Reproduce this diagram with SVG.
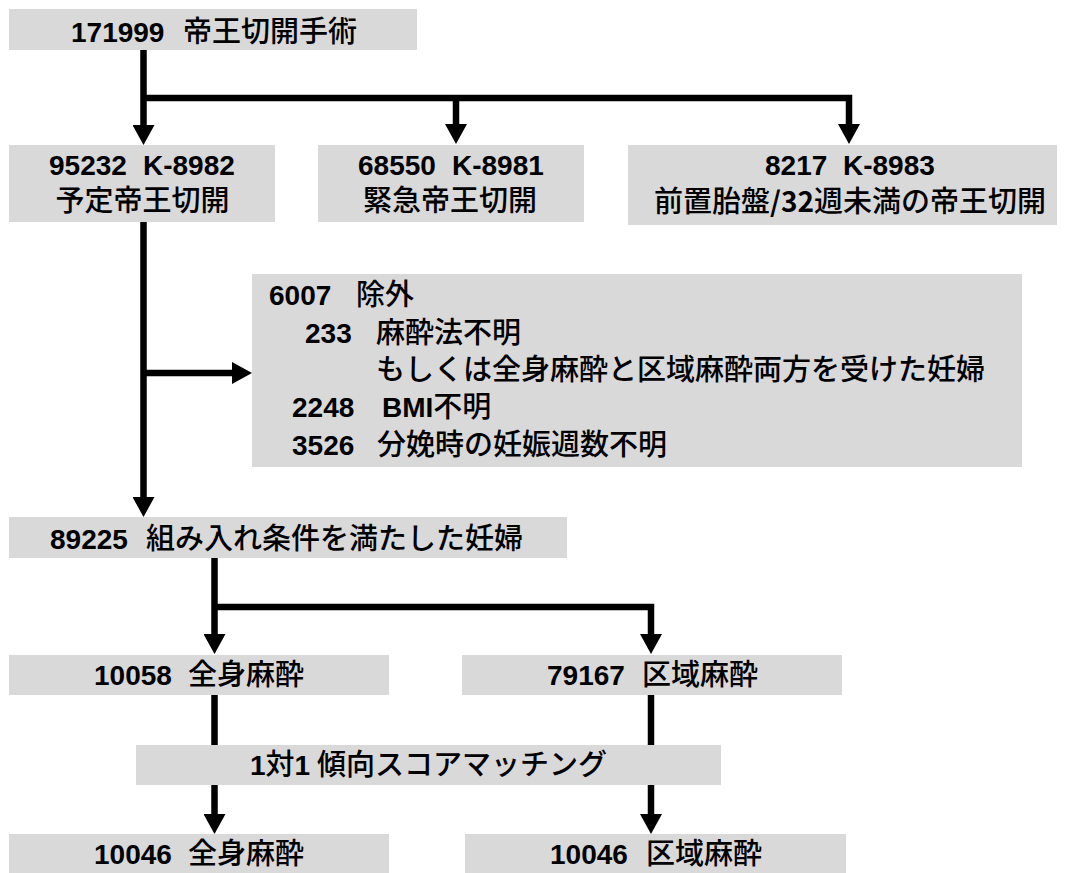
<svg xmlns="http://www.w3.org/2000/svg" width="1067" height="873" viewBox="0 0 1067 873">
<style>
.box{fill:#d9d9d9}
text{font-family:"Liberation Sans","Noto Sans CJK JP",sans-serif;fill:#000}
.n{font-size:28px;font-weight:bold}
.j{font-family:"Noto Sans CJK JP",sans-serif;font-size:29px;font-weight:500}
.c{text-anchor:middle}
.ln{fill:none;stroke:#000;stroke-width:6.5;stroke-linejoin:miter}
</style>
<defs>
<marker id="ah" markerUnits="userSpaceOnUse" markerWidth="21" markerHeight="22" refX="0" refY="11" orient="auto" viewBox="0 0 21 22">
<path d="M0,0 L20,11 L0,22 z" fill="#000"/>
</marker>
</defs>
<rect width="1067" height="873" fill="#fff"/>

<g id="connectors">
<path class="ln" d="M143.5,50 V125" marker-end="url(#ah)"/>
<path class="ln" d="M143.5,98 H849 V124" marker-end="url(#ah)"/>
<path class="ln" d="M456,98 V124" marker-end="url(#ah)"/>
<path class="ln" d="M143.5,222 V497" marker-end="url(#ah)"/>
<path class="ln" d="M143.5,373 H232" marker-end="url(#ah)"/>
<path class="ln" d="M214.5,558 V634" marker-end="url(#ah)"/>
<path class="ln" d="M214.5,607 H651 V634" marker-end="url(#ah)"/>
<path class="ln" d="M214.5,695 V745"/>
<path class="ln" d="M651,695 V745"/>
<path class="ln" d="M214.5,785 V814" marker-end="url(#ah)"/>
<path class="ln" d="M651,785 V814" marker-end="url(#ah)"/>
</g>

<g id="n-total">
<rect class="box" x="9" y="9" width="408" height="41"/>
<text y="42"><tspan class="n" x="71">171999</tspan><tspan class="j" x="183">帝王切開手術</tspan></text>
</g>

<g id="n-planned">
<rect class="box" x="9" y="145" width="266" height="77"/>
<text y="175"><tspan class="n" x="49">95232</tspan><tspan class="n" x="143">K-8982</tspan></text>
<text class="j c" x="142.5" y="211">予定帝王切開</text>
</g>

<g id="n-emergency">
<rect class="box" x="318" y="145" width="266" height="77"/>
<text y="175"><tspan class="n" x="358">68550</tspan><tspan class="n" x="452">K-8981</tspan></text>
<text class="j c" x="450" y="211">緊急帝王切開</text>
</g>

<g id="n-placenta">
<rect class="box" x="628" y="145" width="429" height="80"/>
<text y="175"><tspan class="n" x="765">8217</tspan><tspan class="n" x="843">K-8983</tspan></text>
<text class="j c" x="850" y="212">前置胎盤<tspan class="n">/32</tspan>週未満の帝王切開</text>
</g>

<g id="n-excluded">
<rect class="box" x="252" y="274" width="770" height="193"/>
<text y="305"><tspan class="n" x="269">6007</tspan><tspan class="j" x="356">除外</tspan></text>
<text y="343"><tspan class="n" x="305">233</tspan><tspan class="j" x="376">麻酔法不明</tspan></text>
<text class="j" x="376" y="380">もしくは全身麻酔と区域麻酔両方を受けた妊婦</text>
<text y="417"><tspan class="n" x="292">2248</tspan><tspan class="n" x="382">BMI</tspan><tspan class="j">不明</tspan></text>
<text y="455"><tspan class="n" x="292">3526</tspan><tspan class="j" x="377">分娩時の妊娠週数不明</tspan></text>
</g>

<g id="n-included">
<rect class="box" x="9" y="517" width="558" height="41"/>
<text y="549"><tspan class="n" x="50">89225</tspan><tspan class="j" x="146">組み入れ条件を満たした妊婦</tspan></text>
</g>

<g id="n-ga">
<rect class="box" x="9" y="655" width="380" height="40"/>
<text y="685"><tspan class="n" x="94">10058</tspan><tspan class="j" x="188">全身麻酔</tspan></text>
</g>

<g id="n-ra">
<rect class="box" x="462" y="655" width="380" height="40"/>
<text y="685"><tspan class="n" x="547">79167</tspan><tspan class="j" x="642">区域麻酔</tspan></text>
</g>

<g id="n-psm">
<rect class="box" x="136" y="745" width="585" height="40"/>
<text y="775"><tspan class="n" x="250">1</tspan><tspan class="j">対</tspan><tspan class="n">1</tspan><tspan class="j" x="317">傾向スコアマッチング</tspan></text>
</g>

<g id="n-ga-matched">
<rect class="box" x="9" y="834" width="380" height="39"/>
<text y="864"><tspan class="n" x="94">10046</tspan><tspan class="j" x="188">全身麻酔</tspan></text>
</g>

<g id="n-ra-matched">
<rect class="box" x="465" y="834" width="381" height="39"/>
<text y="864"><tspan class="n" x="550">10046</tspan><tspan class="j" x="646">区域麻酔</tspan></text>
</g>
</svg>
